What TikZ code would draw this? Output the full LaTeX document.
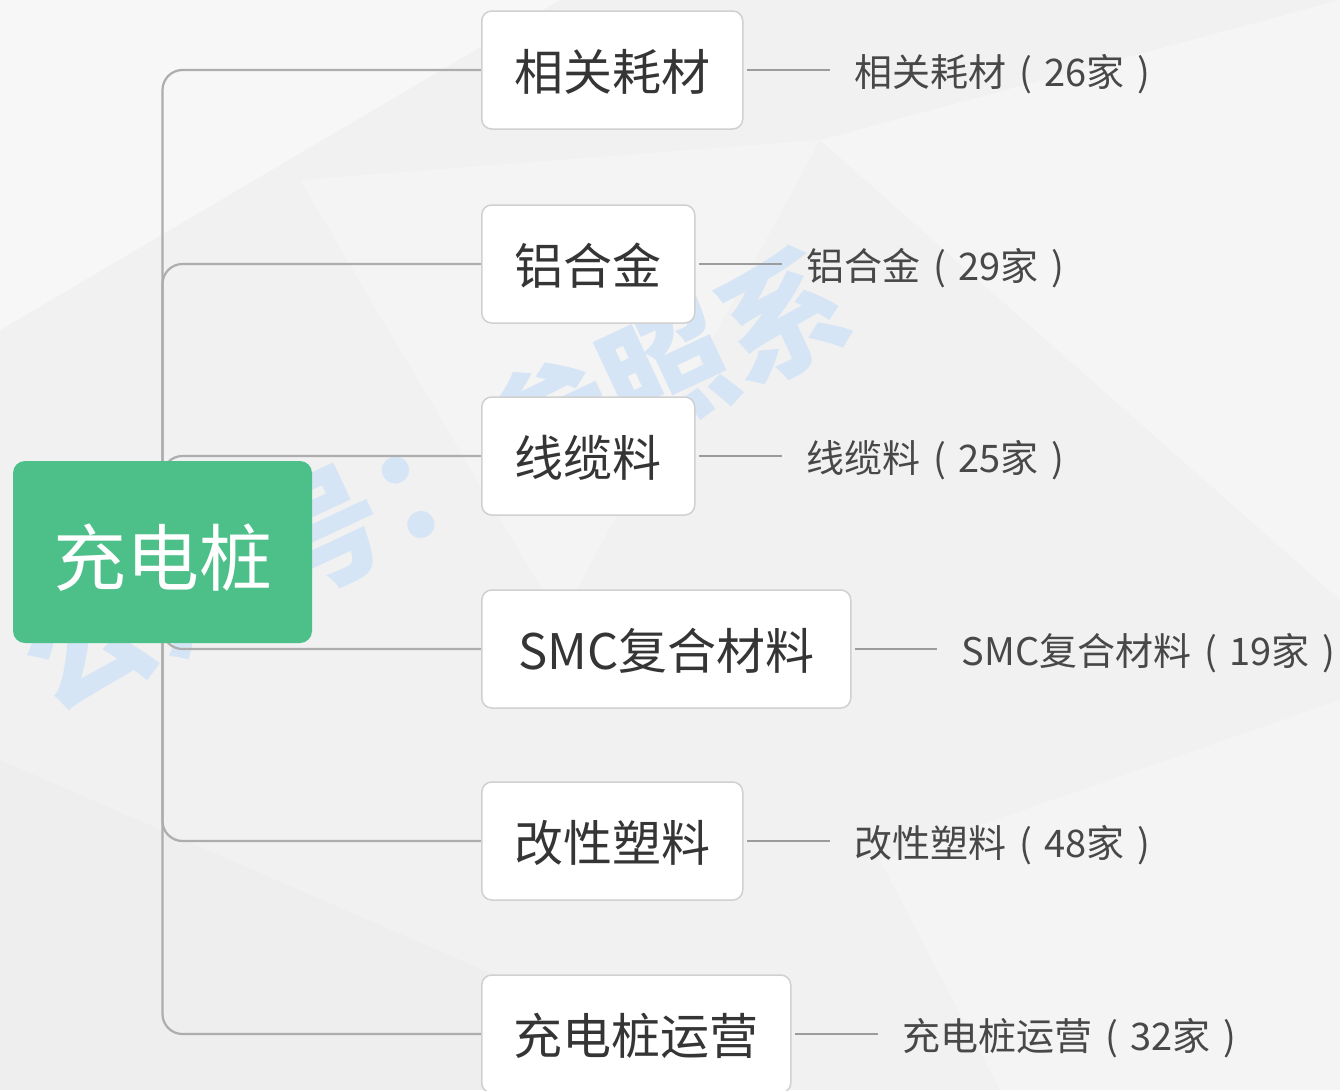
\documentclass[tikz,border=0pt]{standalone}
\usepackage{fontspec}
\setmainfont{Noto Sans CJK SC}
\definecolor{bgc}{HTML}{F1F1F1}
\definecolor{rootg}{HTML}{4DC08A}
\definecolor{branchc}{HTML}{ADADAD}
\definecolor{stubc}{HTML}{9C9C9C}
\definecolor{boxb}{HTML}{D0D0D0}
\definecolor{txtc}{HTML}{353535}
\definecolor{lblc}{HTML}{484848}
\definecolor{wmc}{HTML}{D6E5F5}
\newcommand{\lp}{\makebox[1em][c]{(}}
\newcommand{\rp}{\makebox[1em][c]{)}}
\newcommand{\dn}[2]{\raisebox{-#1}[\height][\depth]{#2}}
\pgfdeclarelayer{back}
\pgfsetlayers{back,main}
\tikzset{
  box/.style={draw=boxb, line width=1.5pt, fill=white, rounded corners=10pt,
    minimum height=118pt, anchor=west, text=txtc, inner sep=0pt,
    font=\fontsize{49}{49}\selectfont},
  rootbox/.style={fill=rootg, rounded corners=12pt, minimum width=299pt,
    minimum height=182pt, text=white, inner sep=0pt,
    font=\fontsize{73}{73}\selectfont},
  lbl/.style={anchor=west, inner sep=0pt, text=lblc,
    font=\fontsize{38}{38}\selectfont},
  branch/.style={draw=branchc, line width=2.2pt, rounded corners=20pt},
  stub/.style={draw=stubc, line width=2pt},
  wmark/.style={text=wmc, rotate=25, inner sep=0pt,
    font=\bfseries\fontsize{128}{128}\selectfont}
}
\begin{document}
\begin{tikzpicture}[x=1pt,y=-1pt]
\useasboundingbox (0,0) rectangle (1340,1090);
% boxes
\node[box, minimum width=261pt] (b1) at (481,70) {\dn{2pt}{相关耗材}};
\node[box, minimum width=213pt] (b2) at (481,264) {\dn{2pt}{铝合金}};
\node[box, minimum width=213pt] (b3) at (481,456) {\dn{2pt}{线缆料}};
\node[box, minimum width=369pt] (b4) at (481,649) {\dn{2pt}{SMC复合材料}};
\node[box, minimum width=261pt] (b5) at (481,841) {\dn{2pt}{改性塑料}};
\node[box, minimum width=309pt] (b6) at (481,1034) {\dn{2pt}{充电桩运营}};
% root
\node[rootbox] (root) at (162.5,552) {\dn{6pt}{充电桩}};
% labels
\node[lbl] (l1) at ([xshift=111pt,yshift=-4pt]b1.east) {相关耗材\lp 26家\rp};
\node[lbl] (l2) at ([xshift=111pt,yshift=-4pt]b2.east) {铝合金\lp 29家\rp};
\node[lbl] (l3) at ([xshift=111pt,yshift=-4pt]b3.east) {线缆料\lp 25家\rp};
\node[lbl] (l4) at ([xshift=110pt,yshift=-4pt]b4.east) {SMC复合材料\lp 19家\rp};
\node[lbl] (l5) at ([xshift=111pt,yshift=-4pt]b5.east) {改性塑料\lp 48家\rp};
\node[lbl] (l6) at ([xshift=111pt,yshift=-4pt]b6.east) {充电桩运营\lp 32家\rp};
\begin{pgfonlayer}{back}
  \fill[bgc] (0,0) rectangle (1340,1090);
  \fill[white,opacity=0.45] (0,0) -- (560,0) -- (0,330) -- cycle;
  \fill[white,opacity=0.3] (820,140) -- (1340,0) -- (1340,600) -- cycle;
  \fill[white,opacity=0.25] (300,180) -- (820,140) -- (560,620) -- cycle;
  \fill[black,opacity=0.012] (0,760) -- (760,1090) -- (0,1090) -- cycle;
  \fill[white,opacity=0.25] (880,860) -- (1340,700) -- (1340,1090) -- (1000,1090) -- cycle;
  \node[wmark] (wm) at (435,478) {公众号：参照系};
  \foreach \b in {b1,b2,b3,b4,b5,b6} {
    \draw[branch] (root.center) |- (\b.west);
  }
  \draw[stub] ([xshift=3pt]b1.east) -- ([xshift=-25pt]l1.west |- b1.east);
  \draw[stub] ([xshift=3pt]b2.east) -- ([xshift=-25pt]l2.west |- b2.east);
  \draw[stub] ([xshift=3pt]b3.east) -- ([xshift=-25pt]l3.west |- b3.east);
  \draw[stub] ([xshift=3pt]b4.east) -- ([xshift=-25pt]l4.west |- b4.east);
  \draw[stub] ([xshift=3pt]b5.east) -- ([xshift=-25pt]l5.west |- b5.east);
  \draw[stub] ([xshift=3pt]b6.east) -- ([xshift=-25pt]l6.west |- b6.east);
\end{pgfonlayer}
\end{tikzpicture}
\end{document}
